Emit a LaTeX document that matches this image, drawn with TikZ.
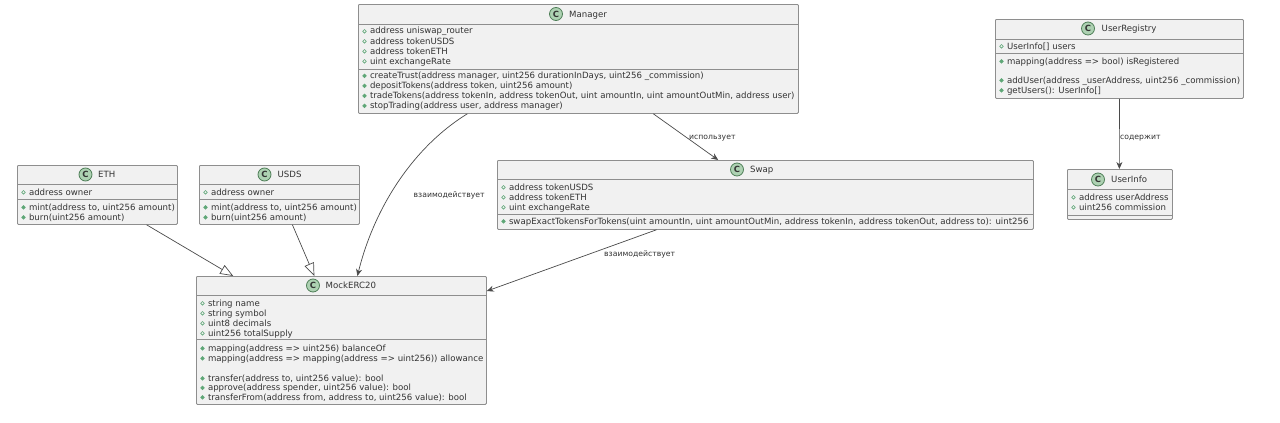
\documentclass[tikz,border=0pt]{standalone}
\usepackage{fontspec}
\setmainfont{DejaVu Sans}
\usetikzlibrary{calc,arrows.meta}
\definecolor{boxfill}{HTML}{F1F1F1}
\definecolor{boxline}{HTML}{8E8E8E}
\definecolor{edgeline}{HTML}{4A4A4A}
\definecolor{txtcol}{HTML}{333333}
\definecolor{vis}{HTML}{5FA777}
\definecolor{iconfill}{HTML}{ADD1B2}
\definecolor{iconline}{HTML}{4F7F58}
\newcount\txtn
\tikzset{
  x=1pt,y=-1pt,
  classbox/.style={draw=boxline,fill=boxfill,line width=0.8pt,rounded corners=1pt,inner sep=0pt,anchor=north west},
  divider/.style={draw=boxline,line width=0.7pt},
  membertext/.style={font=\fontsize{8.6}{10}\selectfont,text=txtcol,anchor=base west,inner sep=0pt},
  titletext/.style={font=\fontsize{8.6}{10}\selectfont,text=txtcol,anchor=base west,inner sep=0pt},
  edgelabel/.style={font=\fontsize{7.7}{9}\selectfont,text=txtcol,anchor=base west,inner sep=0pt},
  iconc/.style={circle,draw=iconline,fill=iconfill,line width=0.8pt,minimum size=13pt,inner sep=0pt,font=\fontsize{8.5}{9}\bfseries\selectfont,text=black!80},
  fieldmark/.style={circle,draw=vis,fill=none,line width=0.6pt,minimum size=3.6pt,inner sep=0pt},
  methodmark/.style={circle,draw=vis,fill=vis,line width=0.6pt,minimum size=3.6pt,inner sep=0pt},
  assoc/.style={draw=edgeline,line width=0.7pt,-{Stealth[length=7pt,width=6pt]}},
  inherit/.style={draw=edgeline,line width=0.7pt,-{Triangle[open,length=13pt,width=10pt,fill=white]}},
}
\newcommand{\classframe}[7]{%
  \node[classbox,minimum width=#4pt-#2pt,minimum height=#5pt-#3pt] (#1) at (#2,#3) {};
  \draw[divider] (#2,#6) -- (#4,#6);
  \draw[divider] (#2,#7) -- (#4,#7);
}
% name, icon x, centre y, title text x
\newcommand{\classtitle}[4]{%
  \node[iconc] (#1icon) at (#2,#3) {C};
  \node[titletext] (#1title) at (#4,#3+3) {#1};
}
\newcommand{\fieldline}[3]{%
  \global\advance\txtn by 1
  \node[fieldmark] (fm\the\txtn) at (#1+6.5,#2+0.3) {};
  \node[membertext] (tx\the\txtn) at (#1+11.8,#2+3) {#3};
}
\newcommand{\methodline}[3]{%
  \global\advance\txtn by 1
  \node[methodmark] (mm\the\txtn) at (#1+6.5,#2+0.3) {};
  \node[membertext] (tx\the\txtn) at (#1+11.8,#2+3) {#3};
}
\begin{document}
\begin{tikzpicture}
\useasboundingbox[fill=white] (0,0) rectangle (1280,423);

% Manager
\classframe{Manager}{358}{4}{798}{113}{24}{69}
\classtitle{Manager}{556}{14}{569}
\fieldline{358}{31}{address uniswap\_router}
\fieldline{358}{41}{address tokenUSDS}
\fieldline{358}{51}{address tokenETH}
\fieldline{358}{61}{uint exchangeRate}
\methodline{358}{75.5}{createTrust(address manager, uint256 durationInDays, uint256 \_commission)}
\methodline{358}{85.5}{depositTokens(address token, uint256 amount)}
\methodline{358}{95.5}{tradeTokens(address tokenIn, address tokenOut, uint amountIn, uint amountOutMin, address user)}
\methodline{358}{105.5}{stopTrading(address user, address manager)}

% UserRegistry
\classframe{UserRegistry}{995}{19}{1243}{98}{39}{53}
\classtitle{UserRegistry}{1088}{28.5}{1101.5}
\fieldline{995}{46}{UserInfo[] users}
\methodline{995}{61}{mapping(address => bool) isRegistered}
\methodline{995}{80}{addUser(address \_userAddress, uint256 \_commission)}
\methodline{995}{90}{getUsers(): UserInfo[]}

% UserInfo
\classframe{UserInfo}{1067}{169}{1172}{219}{189}{215}
\classtitle{UserInfo}{1098}{179.5}{1111}
\fieldline{1067}{197}{address userAddress}
\fieldline{1067}{207}{uint256 commission}

% Swap
\classframe{Swap}{497}{160}{1033}{229}{179}{214}
\classtitle{Swap}{737}{169.5}{750}
\fieldline{497}{187}{address tokenUSDS}
\fieldline{497}{197}{address tokenETH}
\fieldline{497}{207}{uint exchangeRate}
\methodline{497}{221}{swapExactTokensForTokens(uint amountIn, uint amountOutMin, address tokenIn, address tokenOut, address to): uint256}

% ETH
\classframe{ETH}{17}{165}{177}{224}{184}{199}
\classtitle{ETH}{85.5}{174.5}{98}
\fieldline{17}{192}{address owner}
\methodline{17}{207}{mint(address to, uint256 amount)}
\methodline{17}{217}{burn(uint256 amount)}

% USDS
\classframe{USDS}{199}{165}{359}{224}{184}{199}
\classtitle{USDS}{264.5}{174.5}{277.5}
\fieldline{199}{192}{address owner}
\methodline{199}{207}{mint(address to, uint256 amount)}
\methodline{199}{217}{burn(uint256 amount)}

% MockERC20
\classframe{MockERC20}{196}{276}{486}{404}{295}{339}
\classtitle{MockERC20}{313}{285.5}{325.5}
\fieldline{196}{303}{string name}
\fieldline{196}{313}{string symbol}
\fieldline{196}{323}{uint8 decimals}
\fieldline{196}{333}{uint256 totalSupply}
\methodline{196}{348}{mapping(address => uint256) balanceOf}
\methodline{196}{358}{mapping(address => mapping(address => uint256)) allowance}
\methodline{196}{378}{transfer(address to, uint256 value): bool}
\methodline{196}{387.5}{approve(address spender, uint256 value): bool}
\methodline{196}{397}{transferFrom(address from, address to, uint256 value): bool}

% Connector ends on the node borders
\coordinate (mgrA) at ($(Manager.south west)!0.248!(Manager.south east)$);
\coordinate (mgrB) at ($(Manager.south west)!0.670!(Manager.south east)$);
\coordinate (swapIn) at ($(Swap.north west)!0.412!(Swap.north east)$);
\coordinate (swapOut) at ($(Swap.south west)!0.297!(Swap.south east)$);
\coordinate (ercA) at ($(MockERC20.north west)!0.128!(MockERC20.north east)$);
\coordinate (ercB) at ($(MockERC20.north west)!0.407!(MockERC20.north east)$);
\coordinate (ercC) at ($(MockERC20.north west)!0.555!(MockERC20.north east)$);
\coordinate (ercD) at ($(MockERC20.north east)!0.117!(MockERC20.south east)$);
\coordinate (ethOut) at ($(ETH.south west)!0.806!(ETH.south east)$);
\coordinate (usdsOut) at ($(USDS.south west)!0.581!(USDS.south east)$);
\coordinate (regOut) at ($(UserRegistry.south west)!0.5!(UserRegistry.south east)$);
\coordinate (infoIn) at ($(UserInfo.north west)!0.495!(UserInfo.north east)$);

% Connectors
\draw[assoc] (mgrA) .. controls (415,146) and (375,205) .. (ercC);
\draw[assoc] (mgrB) -- (swapIn);
\draw[assoc] (swapOut) -- (ercD);
\draw[assoc] (regOut) -- (infoIn);
\draw[inherit] (ethOut) -- (ercA);
\draw[inherit] (usdsOut) -- (ercB);

% Connector labels
\node[edgelabel] (lblA) at (413.5,197) {взаимодействует};
\node[edgelabel] (lblB) at (689,139) {использует};
\node[edgelabel] (lblC) at (604,256) {взаимодействует};
\node[edgelabel] (lblD) at (1120,139) {содержит};
\end{tikzpicture}
\end{document}
